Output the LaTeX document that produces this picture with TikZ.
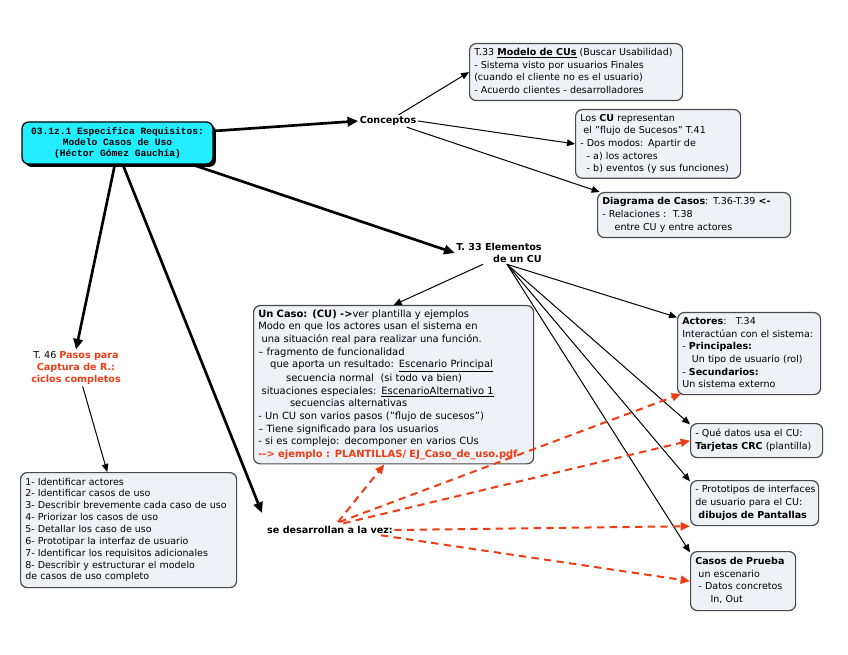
\documentclass[tikz,border=0pt]{standalone}
\usepackage{fontspec}
\setmainfont{DejaVu Sans}
\newfontfamily\monob{Liberation Mono}
\usetikzlibrary{arrows.meta,shadows,calc}
\definecolor{boxfill}{HTML}{EEF2F6}
\definecolor{boxdraw}{HTML}{4A4A4A}
\definecolor{cyanbox}{HTML}{22EEFF}
\definecolor{redt}{HTML}{F03C14}
\newcommand\boxlines[1]{\begin{tabular}{@{}l@{}}#1\end{tabular}}
\tikzset{
 box/.style={draw=boxdraw, fill=boxfill, rounded corners=5pt, line width=0.9pt,
   inner xsep=3.5pt, inner ysep=2pt, align=left, anchor=north west,
   font=\fontsize{7.15}{9.5}\selectfont},
 plain/.style={align=center, inner sep=1pt, font=\fontsize{7}{9.2}\selectfont},
 bigarrow/.style={line width=2pt, -{Triangle[length=8pt,width=7pt]}},
 thinarrow/.style={line width=0.75pt, -{Triangle[length=6pt,width=5pt]}},
 redarrow/.style={draw=redt, line width=1.5pt, dash pattern=on 5.5pt off 4pt,
   -{Triangle[length=7pt,width=6pt,fill=redt]}},
}
\begin{document}
\begin{tikzpicture}[x=0.75pt,y=-0.75pt]
\useasboundingbox (0,0) rectangle (848,655);

% title
\node[draw=black, fill=cyanbox, rounded corners=5pt, line width=1pt,
  minimum width=143.25pt, minimum height=31.5pt, align=center,
  drop shadow={shadow xshift=2.2pt, shadow yshift=-2.2pt, fill=black, opacity=1},
  font=\monob\bfseries\fontsize{7.2}{8.3}\selectfont] (title) at (117.5,143)
  {03.1z.1 Especifica Requisitos:\\Modelo Casos de Uso\\(Héctor Gómez Gauchía)};

% text nodes
\node[plain, font=\bfseries\fontsize{7.2}{9}\selectfont] (conc) at (388,121) {Conceptos};
\node[plain, align=right, font=\bfseries\fontsize{7.2}{9}\selectfont] (elem) at (499,253) {T. 33 Elementos\\de un CU};
\node[plain, font=\fontsize{7.2}{9.2}\selectfont] (t46) at (76,368)
  {T. 46 \textcolor{redt}{\textbf{Pasos para}}\\\textcolor{redt}{\textbf{Captura de R.:}}\\\textcolor{redt}{\textbf{ciclos completos}}};
\node[plain, font=\bfseries\fontsize{7.2}{9}\selectfont] (sedes) at (330,530) {se desarrollan a la vez:};

% boxes
\node[box, text width=152.75pt, minimum height=42.75pt] (modelo) at (469,43)
 {\boxlines{T.33 \textbf{\underline{Modelo de CUs}} (Buscar Usabilidad)\\
 - Sistema visto por usuarios Finales\\
 (cuando el cliente no es el usuario)\\
 - Acuerdo clientes - desarrolladores}};

\node[box, text width=116.75pt, minimum height=51pt] (loscu) at (575,109)
 {\boxlines{Los \textbf{CU} representan\\
 \ el "flujo de Sucesos" T.41\\
 - Dos modos: Apartir de\\
 \ \ - a) los actores\\
 \ \ - b) eventos (y sus funciones)}};

\node[box, text width=137.75pt, minimum height=33.75pt] (diag) at (597,192)
 {\boxlines{\textbf{Diagrama de Casos}: T.36-T.39 \textbf{<-}\\
 - Relaciones :\ \ T.38\\
 \hspace*{1.3em}entre CU y entre actores}};

\node[box, text width=203pt, minimum height=113.25pt,
  font=\fontsize{7.45}{9.5}\selectfont] (uncaso) at (253,305)
 {\boxlines{\textbf{Un Caso: (CU) ->}ver plantilla y ejemplos\\
 Modo en que los actores usan el sistema en\\
 \ una situación real para realizar una función.\\
 – fragmento de funcionalidad\\
 \hspace*{1.2em}que aporta un resultado: \underline{Escenario Principal}\\
 \hspace*{2.8em}secuencia normal\ \ (si todo va bien)\\
 \ situaciones especiales: \underline{EscenarioAlternativo 1}\\
 \hspace*{3.2em}secuencias alternativas\\
 - Un CU son varios pasos ("flujo de sucesos")\\
 – Tiene significado para los usuarios\\
 - si es complejo: decomponer en varios CUs\\
 \textcolor{redt}{\textbf{{-}{-}> ejemplo : PLANTILLAS/ EJ\_Caso\_de\_uso.pdf}}}};

\node[box, text width=100.25pt, minimum height=61.5pt] (actores) at (677,312)
 {\boxlines{\textbf{Actores}:\ \ \ T.34\\
 Interactúan con el sistema:\\
 - \textbf{Principales:}\\
 \hspace*{1em}Un tipo de usuario (rol)\\
 - \textbf{Secundarios:}\\
 Un sistema externo}};

\node[box, text width=92pt, minimum height=25.5pt] (datos) at (690,423)
 {\boxlines{- Qué datos usa el CU:\\
 \textbf{Tarjetas CRC} (plantilla)}};

\node[box, text width=89pt, minimum height=33.75pt] (proto) at (690,480)
 {\boxlines{- Prototipos de interfaces\\
 de usuario para el CU:\\
 \ \textbf{dibujos de Pantallas}}};

\node[box, text width=71.75pt, minimum height=44.25pt] (casos) at (690,551)
 {\boxlines{\textbf{Casos de Prueba}\\
 \ un escenario\\
 \ - Datos concretos\\
 \hspace*{1.6em}In, Out}};

\node[box, text width=155pt, minimum height=86.25pt,
  font=\fontsize{7.1}{8.9}\selectfont] (steps) at (20,472)
 {\boxlines{1- Identificar actores\\
 2- Identificar casos de uso\\
 3- Describir brevemente cada caso de uso\\
 4- Priorizar los casos de uso\\
 5- Detallar los caso de uso\\
 6- Prototipar la interfaz de usuario\\
 7- Identificar los requisitos adicionales\\
 8- Describir y estructurar el modelo\\
 de casos de uso completo}};

% thick connectors
\draw[bigarrow] ([yshift=9pt]title.east) -- (conc.west);
\draw[bigarrow] ([xshift=-16pt]title.south east) -- (elem.west);
\draw[bigarrow] ([xshift=-2pt]title.south) -- (t46.north);
\coordinate (sedesin) at (262,513);
\draw[bigarrow] ([xshift=4pt]title.south) -- (sedesin);

% thin connectors
\draw[thinarrow] ([xshift=8pt]conc.north) -- (modelo.west);
\draw[thinarrow] (conc.east) -- (loscu.west);
\draw[thinarrow] ([xshift=14pt]conc.south) -- ([xshift=2pt]diag.north west);
\draw[thinarrow] ([xshift=-12pt]elem.south) -- (uncaso.north);
\draw[thinarrow] ([xshift=6pt]elem.south) -- ([yshift=-4pt]actores.north west);
\draw[thinarrow] ([xshift=6pt]elem.south) -- ([yshift=-1pt]datos.north west);
\draw[thinarrow] ([xshift=6pt]elem.south) -- ([yshift=-1pt]proto.north west);
\draw[thinarrow] ([xshift=6pt]elem.south) -- ([yshift=-1pt]casos.north west);
\draw[thinarrow] ([xshift=5pt]t46.south) -- ([xshift=-16pt]steps.north);

% red dashed connectors
\draw[redarrow] ([xshift=6pt,yshift=2pt]sedes.north) -- ([xshift=-7pt]uncaso.south);
\draw[redarrow] ([xshift=7pt,yshift=2pt]sedes.north) -- ([xshift=3pt,yshift=1pt]actores.south west);
\draw[redarrow] ([xshift=10pt,yshift=1pt]sedes.north) -- (datos.west);
\draw[redarrow] (sedes.east) -- (proto.south west);
\draw[redarrow] ([xshift=-10pt]sedes.south east) -- (casos.west);
\end{tikzpicture}
\end{document}
